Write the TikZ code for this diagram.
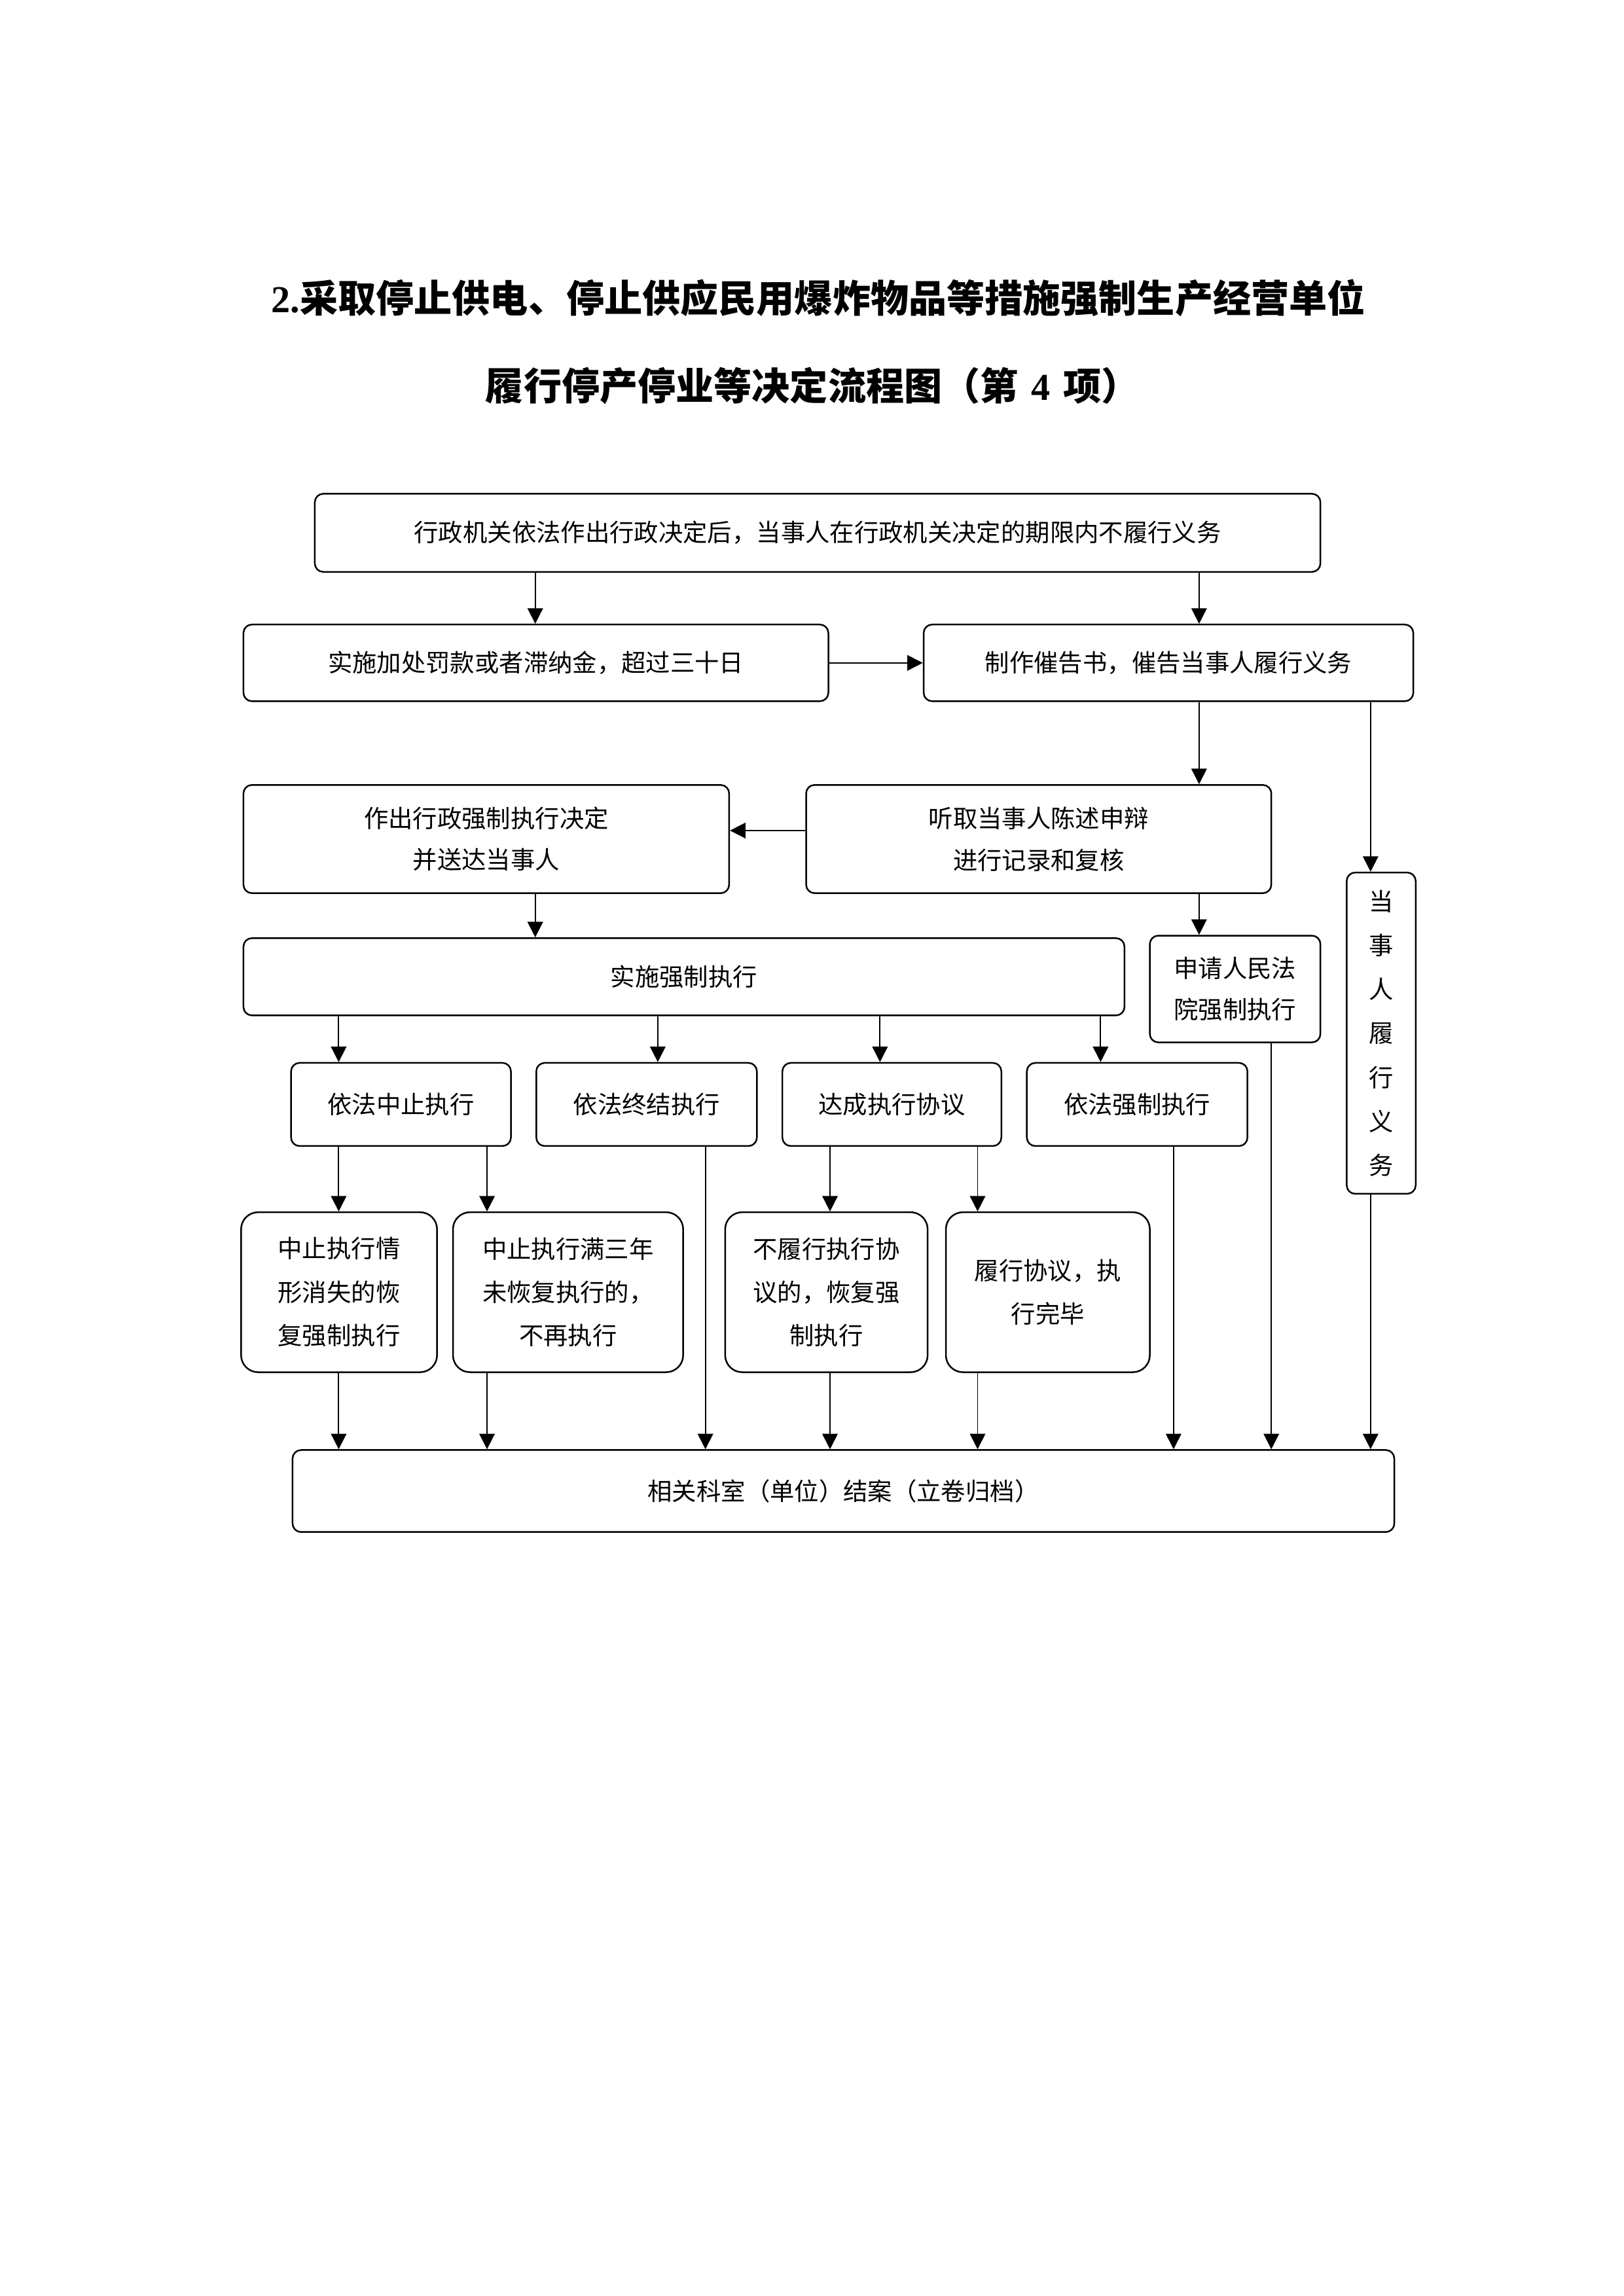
\documentclass[tikz,border=0pt]{standalone}
\usepackage{fontspec}
\setmainfont{Liberation Serif}
\newfontfamily\cjk{Noto Sans CJK SC}
\usepackage{tikz}
\usetikzlibrary{positioning}
\usetikzlibrary{arrows.meta}
\newlength\unitpx
\setlength\unitpx{0.19072mm}

\begin{document}
\begin{tikzpicture}[x=0.19072mm, y=-0.19072mm,
			box/.style={draw=black, line width=0.6pt, rounded corners=1.1mm, inner sep=0pt, align=center, font=\cjk\fontsize{9}{16}\selectfont},
			roundbox/.style={box, rounded corners=2.2mm},
			arr/.style={-{Triangle[length=2mm, width=2mm]}, line width=0.45pt}
			]
			\useasboundingbox (0,0) rectangle (1101.1,1557.3);
			
			\node[font=\cjk\bfseries\fontsize{14}{18}\selectfont] at (555, 202.3) (title1) {\textbf{\fontspec{Liberation Serif}2.}采取停止供电、停止供应民用爆炸物品等措施强制生产经营单位};
			\node[font=\cjk\bfseries\fontsize{14}{18}\selectfont] at (551, 261.5) (title2) {履行停产停业等决定流程图（第\hspace{0.34em}\textbf{\fontspec{Liberation Serif}4}\hspace{0.34em}项）};
			
			\node[box, minimum width=682\unitpx, minimum height=53\unitpx] at (554.5, 361.4) (start) {行政机关依法作出行政决定后，当事人在行政机关决定的期限内不履行义务};
			\node[box, minimum width=396.7\unitpx, minimum height=52\unitpx] at (363.45, 449.6) (fine) {实施加处罚款或者滞纳金，超过三十日};
			\node[box, minimum width=332.1\unitpx, minimum height=52\unitpx] at (792.45, 449.6) (notice) {制作催告书，催告当事人履行义务};
			\node[box, minimum width=329.4\unitpx, minimum height=73.4\unitpx, font=\cjk\fontsize{9}{15.3}\selectfont] at (329.8, 569.1) (decide) {作出行政强制执行决定\\并送达当事人};
			\node[box, minimum width=315.5\unitpx, minimum height=73.4\unitpx, font=\cjk\fontsize{9}{15.3}\selectfont] at (704.45, 569.1) (hear) {听取当事人陈述申辩\\进行记录和复核};
			\node[box, minimum width=46.8\unitpx, minimum height=217.9\unitpx, font=\cjk\fontsize{9}{16.2}\selectfont] at (936.7, 700.75) (fulfil) {当\\事\\人\\履\\行\\义\\务};
			\node[box, minimum width=597.5\unitpx, minimum height=52.4\unitpx] at (463.85, 662.5) (enforce) {实施强制执行};
			\node[box, minimum width=115.7\unitpx, minimum height=72.4\unitpx, font=\cjk\fontsize{9}{15.3}\selectfont] at (837.65, 670.8) (court) {申请人民法\\院强制执行};
			
			\node[box, minimum width=149.1\unitpx, minimum height=56.4\unitpx] at (271.95, 749.1) (suspend) {依法中止执行};
			\node[box, minimum width=149.6\unitpx, minimum height=56.4\unitpx] at (438.5, 749.1) (terminate) {依法终结执行};
			\node[box, minimum width=148.5\unitpx, minimum height=56.4\unitpx] at (604.85, 749.1) (agree) {达成执行协议};
			\node[box, minimum width=149.6\unitpx, minimum height=56.4\unitpx] at (771.2, 749.1) (force) {依法强制执行};
			
			\node[roundbox, minimum width=132.9\unitpx, minimum height=108.5\unitpx] at (229.95, 876.45) (resume) {中止执行情\\形消失的恢\\复强制执行};
			\node[roundbox, minimum width=156.1\unitpx, minimum height=108.5\unitpx] at (385.25, 876.45) (expire) {中止执行满三年\\未恢复执行的，\\不再执行};
			\node[roundbox, minimum width=137.3\unitpx, minimum height=108.5\unitpx] at (560.45, 876.45) (breach) {不履行执行协\\议的，恢复强\\制执行};
			\node[roundbox, minimum width=138.3\unitpx, minimum height=108.5\unitpx] at (710.65, 876.45) (done) {履行协议，执\\行完毕};
			
			\node[box, minimum width=747.2\unitpx, minimum height=55.6\unitpx] at (572, 1011.3) (close) {相关科室（单位）结案（立卷归档）};
			
			% columns of the vertical connectors
			\coordinate (cL) at (363, 0);
			\coordinate (cR) at (813.2, 0);
			\coordinate (cE) at (929.5, 0);
			\coordinate (c1) at (229.7, 0);
			\coordinate (c2) at (330.3, 0);
			\coordinate (c3) at (446.1, 0);
			\coordinate (c4) at (478.4, 0);
			\coordinate (c5) at (562.9, 0);
			\coordinate (c6) at (596.8, 0);
			\coordinate (c7) at (663, 0);
			\coordinate (c8) at (746.4, 0);
			\coordinate (c9) at (795.9, 0);
			\coordinate (c10) at (862.2, 0);
			
			\draw[arr] (start.south -| cL) -- (fine.north -| cL);
			\draw[arr] (start.south -| cR) -- (notice.north -| cR);
			\draw[arr] (fine.east) -- (notice.west);
			\draw[arr] (notice.south -| cR) -- (hear.north -| cR);
			\draw[arr] (notice.south -| cE) -- (fulfil.north -| cE);
			\draw[arr] ([yshift=1.1mm]hear.west) -- ([yshift=1.1mm]decide.east);
			\draw[arr] (decide.south -| cL) -- (enforce.north -| cL);
			\draw[arr] (hear.south -| cR) -- (court.north -| cR);
			
			\draw[arr] (enforce.south -| c1) -- (suspend.north -| c1);
			\draw[arr] (enforce.south -| c3) -- (terminate.north -| c3);
			\draw[arr] (enforce.south -| c6) -- (agree.north -| c6);
			\draw[arr] (enforce.south -| c8) -- (force.north -| c8);
			
			\draw[arr] (suspend.south -| c1) -- (resume.north -| c1);
			\draw[arr] (suspend.south -| c2) -- (expire.north -| c2);
			\draw[arr] (agree.south -| c5) -- (breach.north -| c5);
			\draw[arr] (agree.south -| c7) -- (done.north -| c7);
			
			\draw[arr] (resume.south -| c1) -- (close.north -| c1);
			\draw[arr] (expire.south -| c2) -- (close.north -| c2);
			\draw[arr] (terminate.south -| c4) -- (close.north -| c4);
			\draw[arr] (breach.south -| c5) -- (close.north -| c5);
			\draw[arr] (done.south -| c7) -- (close.north -| c7);
			\draw[arr] (force.south -| c9) -- (close.north -| c9);
			\draw[arr] (court.south -| c10) -- (close.north -| c10);
			\draw[arr] (fulfil.south -| cE) -- (close.north -| cE);
		\end{tikzpicture}
\end{document}
